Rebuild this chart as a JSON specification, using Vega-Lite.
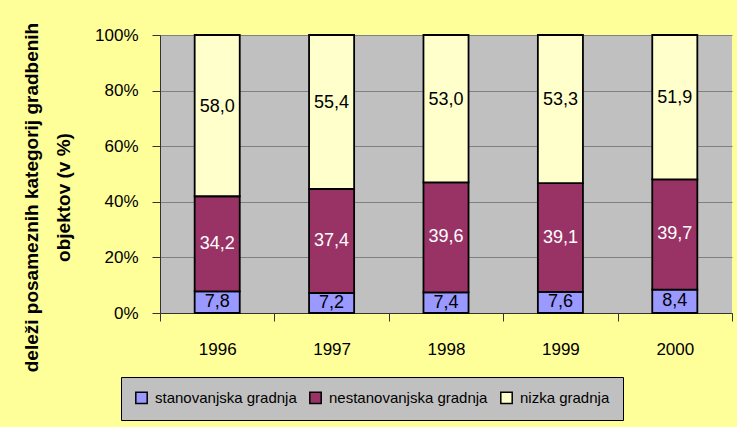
{
  "$schema": "https://vega.github.io/schema/vega-lite/v6.json",
  "width": 572,
  "height": 278,
  "autosize": "none",
  "padding": {"left": 160, "top": 35, "right": 5, "bottom": 114},
  "background": "#FFFF99",
  "config": {
    "font": "Liberation Sans",
    "locale": {"number": {"decimal": ",", "thousands": ".", "grouping": [3], "currency": ["", " €"]}},
    "view": {"fill": "#C0C0C0", "stroke": null},
    "axis": {"labelFont": "Liberation Sans", "labelColor": "#000", "labelFontSize": 17, "domainColor": "#333", "tickColor": "#333", "domainWidth": 1, "tickWidth": 1}
  },
  "data": {
    "values": [
      {"year": "1996", "cat": "stanovanjska gradnja", "ord": 1, "value": 7.8},
      {"year": "1996", "cat": "nestanovanjska gradnja", "ord": 2, "value": 34.2},
      {"year": "1996", "cat": "nizka gradnja", "ord": 3, "value": 58.0},
      {"year": "1997", "cat": "stanovanjska gradnja", "ord": 1, "value": 7.2},
      {"year": "1997", "cat": "nestanovanjska gradnja", "ord": 2, "value": 37.4},
      {"year": "1997", "cat": "nizka gradnja", "ord": 3, "value": 55.4},
      {"year": "1998", "cat": "stanovanjska gradnja", "ord": 1, "value": 7.4},
      {"year": "1998", "cat": "nestanovanjska gradnja", "ord": 2, "value": 39.6},
      {"year": "1998", "cat": "nizka gradnja", "ord": 3, "value": 53.0},
      {"year": "1999", "cat": "stanovanjska gradnja", "ord": 1, "value": 7.6},
      {"year": "1999", "cat": "nestanovanjska gradnja", "ord": 2, "value": 39.1},
      {"year": "1999", "cat": "nizka gradnja", "ord": 3, "value": 53.3},
      {"year": "2000", "cat": "stanovanjska gradnja", "ord": 1, "value": 8.4},
      {"year": "2000", "cat": "nestanovanjska gradnja", "ord": 2, "value": 39.7},
      {"year": "2000", "cat": "nizka gradnja", "ord": 3, "value": 51.9}
    ]
  },
  "encoding": {
    "x": {
      "field": "year", "type": "ordinal",
      "scale": {"paddingInner": 0, "paddingOuter": 0},
      "axis": {"title": null, "labelAngle": 0, "tickBand": "extent", "tickSize": 8, "labelPadding": 20, "grid": false}
    }
  },
  "layer": [
    {
      "mark": {"type": "bar", "width": {"band": 0.394}, "stroke": "#000", "strokeWidth": 1.8},
      "encoding": {
        "y": {
          "field": "value", "type": "quantitative", "stack": "zero",
          "scale": {"domain": [0, 100]},
          "axis": {
            "title": ["deleži posameznih kategorij gradbenih", "objektov (v %)"],
            "values": [0, 20, 40, 60, 80, 100],
            "labelExpr": "datum.value + '%'",
            "grid": true, "gridColor": "#808080", "gridWidth": 1,
            "tickSize": 8, "labelPadding": 14,
            "titleFontSize": 19, "titleFontWeight": "bold", "titleColor": "#000",
            "titleX": -123, "titleY": 162, "titleAngle": -90, "titleAlign": "center",
            "titleBaseline": "alphabetic", "titleLineHeight": 32
          }
        },
        "color": {
          "field": "cat", "type": "nominal",
          "scale": {"domain": ["stanovanjska gradnja", "nestanovanjska gradnja", "nizka gradnja"], "range": ["#9999FF", "#993366", "#FFFFCC"]},
          "legend": {
            "title": null, "orient": "none", "legendX": -39, "legendY": 342, "direction": "horizontal",
            "fillColor": "#C0C0C0", "strokeColor": "#000", "padding": 13,
            "symbolType": "square", "symbolSize": 130, "symbolStrokeColor": "#000", "symbolStrokeWidth": 1.5, "symbolOpacity": 1,
            "labelFontSize": 15, "labelFont": "Liberation Sans", "labelColor": "#000", "labelLimit": 300,
            "columnPadding": 9, "labelOffset": 6
          }
        },
        "order": {"field": "ord"}
      }
    },
    {
      "transform": [{"filter": "datum.ord < 3"}],
      "mark": {"type": "text", "fontSize": 18, "font": "Liberation Sans"},
      "encoding": {
        "y": {"field": "value", "type": "quantitative", "stack": "zero", "bandPosition": 0.5},
        "text": {"field": "value", "type": "quantitative", "format": ".1f"},
        "color": {"condition": {"test": "datum.ord == 2", "value": "#FFFFFF"}, "value": "#000000"},
        "order": {"field": "ord"}
      }
    },
    {
      "mark": {"type": "text", "fontSize": 18, "font": "Liberation Sans", "dy": -9},
      "encoding": {
        "y": {"field": "value", "type": "quantitative", "stack": "zero", "bandPosition": 0.5},
        "text": {"field": "value", "type": "quantitative", "format": ".1f"},
        "color": {"value": "#000000"},
        "opacity": {"condition": {"test": "datum.ord == 3", "value": 1}, "value": 0},
        "order": {"field": "ord"}
      }
    }
  ]
}
